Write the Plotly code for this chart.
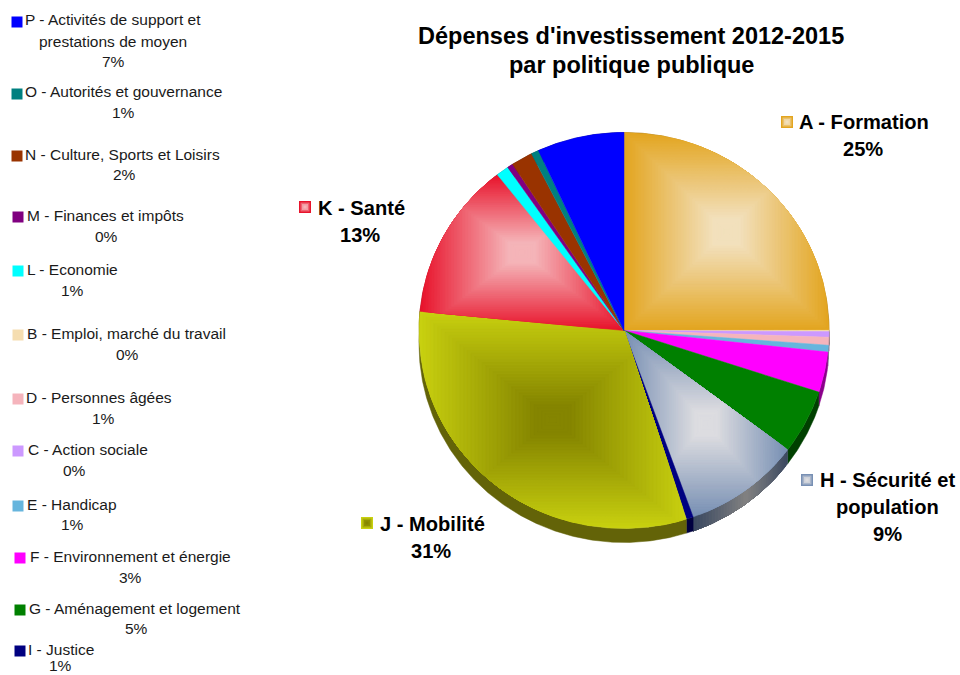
import math
import plotly.graph_objects as go

# Investment spending share by public policy, in clockwise slice order from 12 o'clock
codes = ["A", "B", "C", "D", "E", "F", "G", "H", "I", "J", "K", "L", "M", "N", "O", "P"]
names = [
    "A - Formation", "B - Emploi, marché du travail", "C - Action sociale",
    "D - Personnes âgées", "E - Handicap", "F - Environnement et énergie",
    "G - Aménagement et logement", "H - Sécurité et population", "I - Justice",
    "J - Mobilité", "K - Santé", "L - Economie", "M - Finances et impôts",
    "N - Culture, Sports et Loisirs", "O - Autorités et gouvernance",
    "P - Activités de support et prestations de moyen",
]
shares = [25.0, 0.1, 0.45, 0.65, 0.55, 3.3, 5.25, 9.25, 0.55, 31.49, 12.86, 1.0, 0.45, 1.7, 0.6, 6.85]

face_colors = ["#E3A520", "#F5DDB0", "#CC99FF", "#F5B4BC", "#66B5DD", "#FF00FF", "#008000", "#7890B4",
               "#000080", "#C8D010", "#E8142C", "#00FFFF", "#800080", "#993300", "#008080", "#0000FF"]
side_colors = ["#8A6510", "#8A7A60", "#7A5A99", "#8A6A70", "#7B8B95", "#8B008B", "#004000", "#3A4860",
               "#000040", "#636308", "#801020", "#008080", "#400040", "#551C00", "#004040", "#000080"]
gradient_centres = {"A": "#F2E0BC", "H": "#DCDCE0", "J": "#858500", "K": "#F5B4B8"}
side_highlight = {"H": "#828282"}

# Chart geometry (pixels on the hidden axes)
CX, CY, RX, RY, DEPTH = 624.0, 330.5, 205.0, 198.0, 14.0
GRADIENT_LEVELS = 36
PLATEAU = 0.14  # central fraction of a gradient held at the full centre colour

fig = go.Figure()


def hex_rgb(c):
    return tuple(int(c[i:i + 2], 16) for i in (1, 3, 5))


def mix(a, b, t):
    ra, rb = hex_rgb(a), hex_rgb(b)
    return "rgb({},{},{})".format(*[round(x + (y - x) * t) for x, y in zip(ra, rb)])


def rim(a, b, dy=0.0, step=0.5):
    n = max(2, int(abs(b - a) / step) + 1)
    pts = []
    for i in range(n + 1):
        t = math.radians(a + (b - a) * i / n)
        pts.append((CX + RX * math.sin(t), CY + dy - RY * math.cos(t)))
    return pts


def add_poly(pts, color):
    fig.add_trace(go.Scatter(
        x=[p[0] for p in pts] + [pts[0][0]],
        y=[p[1] for p in pts] + [pts[0][1]],
        mode="lines", fill="toself", fillcolor=color,
        line=dict(width=0.5, color=color), hoverinfo="skip", showlegend=False,
    ))


def clip_rect(poly, x0, y0, x1, y1):
    # Sutherland-Hodgman against an axis-aligned rectangle
    edges = [(0, x0, 1), (0, x1, -1), (1, y0, 1), (1, y1, -1)]
    out = poly
    for axis, limit, sign in edges:
        src, out = out, []
        if not src:
            break
        for i, cur in enumerate(src):
            prev = src[i - 1]
            cur_in = sign * (cur[axis] - limit) >= 0
            prev_in = sign * (prev[axis] - limit) >= 0
            if cur_in != prev_in:
                t = (limit - prev[axis]) / (cur[axis] - prev[axis])
                out.append((prev[0] + (cur[0] - prev[0]) * t, prev[1] + (cur[1] - prev[1]) * t))
            if cur_in:
                out.append(cur)
    return out


# Angular extent of each slice
total = sum(shares)
bounds, running = [], 0.0
for v in shares:
    bounds.append((running / total * 360, (running + v) / total * 360))
    running += v

# Side wall of the disc, visible along the lower rim
for code, (a, b), col in zip(codes, bounds, side_colors):
    if code in side_highlight:
        # Painted overlapping towards the slice end so no seams show between steps
        strips = 36
        for i in range(strips):
            s0 = a + (b - a) * i / strips
            t = 1 - abs(2 * (i + 0.5) / strips - 1)
            add_poly(rim(s0, b) + rim(b, s0, DEPTH), mix(col, side_highlight[code], t))
    else:
        add_poly(rim(a, b) + rim(b, a, DEPTH), col)

# Top face: flat slices, plus rectangular path gradients on the four labelled slices
for code, (a, b), col in zip(codes, bounds, face_colors):
    poly = [(CX, CY)] + rim(a, b)
    add_poly(poly, col)
    if code in gradient_centres:
        xs, ys = [p[0] for p in poly], [p[1] for p in poly]
        mx, my = (min(xs) + max(xs)) / 2, (min(ys) + max(ys)) / 2
        hw, hh = (max(xs) - min(xs)) / 2, (max(ys) - min(ys)) / 2
        for k in range(1, GRADIENT_LEVELS):
            s = 1 - k / GRADIENT_LEVELS
            part = clip_rect(poly, mx - hw * s, my - hh * s, mx + hw * s, my + hh * s)
            if len(part) >= 3:
                add_poly(part, mix(col, gradient_centres[code], min(1.0, (1 - s) / (1 - PLATEAU))))

percent = {c: f"{round(v)}%" for c, v in zip(codes, shares)}
name_of = dict(zip(codes, names))
face_of = dict(zip(codes, face_colors))

# Small-label legend down the left: code, key position, first-line start, first-line y, percent centre, percent y
side_entries = [
    ("P", 17, 22, 23, 19, 113, 61),
    ("O", 17, 94, 23, 91, 123, 112),
    ("N", 17, 156, 23, 154, 124, 174),
    ("M", 18, 217, 25, 215, 106, 236),
    ("L", 18, 271, 25, 269, 72, 290),
    ("B", 18, 335, 25, 333, 127, 354),
    ("D", 18, 399, 24, 397, 103, 418),
    ("C", 18, 451, 26, 449, 74, 470),
    ("E", 18, 506, 25, 504, 72, 524),
    ("F", 20, 558, 28, 556, 130, 577),
    ("G", 20, 610, 27, 608, 136, 628),
    ("I", 20, 651, 26, 649, 60, 665),
]
small = dict(family="Liberation Sans", size=15.5, color="#1a1a1a")
bold = dict(family="Liberation Sans", size=20.1, color="#000000")

annotations = []


def label(x, y, text, font, anchor="center"):
    annotations.append(dict(x=x, y=y, text=text, font=font, xref="x", yref="y", showarrow=False,
                            xanchor=anchor, yanchor="middle", align="center"))


for code, kx, ky, tx, ty, px, py in side_entries:
    full = name_of[code]
    if code == "P":
        label(tx, ty, "P - Activités de support et", small, "left")
        label(px, 41, "prestations de moyen", small)
    else:
        label(tx, ty, full, small, "left")
    label(px, py, percent[code], small)

fig.add_trace(go.Scatter(
    x=[e[1] for e in side_entries], y=[e[2] for e in side_entries], mode="markers",
    marker=dict(symbol="square", size=11, color=[face_of[e[0]] for e in side_entries]),
    hoverinfo="skip", showlegend=False,
))

# Large callouts beside the pie, with gradient keys
callouts = [
    ("A", 787, 122, [(797, 122, "A - Formation", "left"), (863, 149, percent["A"], "center")]),
    ("K", 305, 207, [(316, 208, "K - Santé", "left"), (360, 235, percent["K"], "center")]),
    ("H", 807, 480, [(818, 480, "H - Sécurité et", "left"), (887, 507, "population", "center"),
                     (887, 534, percent["H"], "center")]),
    ("J", 367, 523, [(378, 524, "J - Mobilité", "left"), (431, 551, percent["J"], "center")]),
]
for code, kx, ky, lines in callouts:
    for size, t in ((12, 0.0), (9, 0.5), (6, 0.85), (3, 1.0)):
        fig.add_trace(go.Scatter(
            x=[kx], y=[ky], mode="markers",
            marker=dict(symbol="square", size=size, color=mix(face_of[code], gradient_centres[code], t)),
            hoverinfo="skip", showlegend=False,
        ))
    for x, y, text, anchor in lines:
        label(x, y, text, bold, anchor)

title_font = dict(family="Liberation Sans", size=23.5, color="#000000")
label(631, 36, "<b>Dépenses d'investissement 2012-2015</b>", title_font)
label(631, 65, "<b>par politique publique</b>", title_font)
for a in annotations:
    if a["font"] is bold:
        a["text"] = f"<b>{a['text']}</b>"

fig.update_layout(
    width=960, height=675, margin=dict(l=0, r=0, t=0, b=0),
    paper_bgcolor="white", plot_bgcolor="white", showlegend=False,
    xaxis=dict(range=[0, 960], visible=False, fixedrange=True),
    yaxis=dict(range=[675, 0], visible=False, fixedrange=True),
    annotations=annotations,
)
fig.write_html("out.html", config={"displayModeBar": False})
